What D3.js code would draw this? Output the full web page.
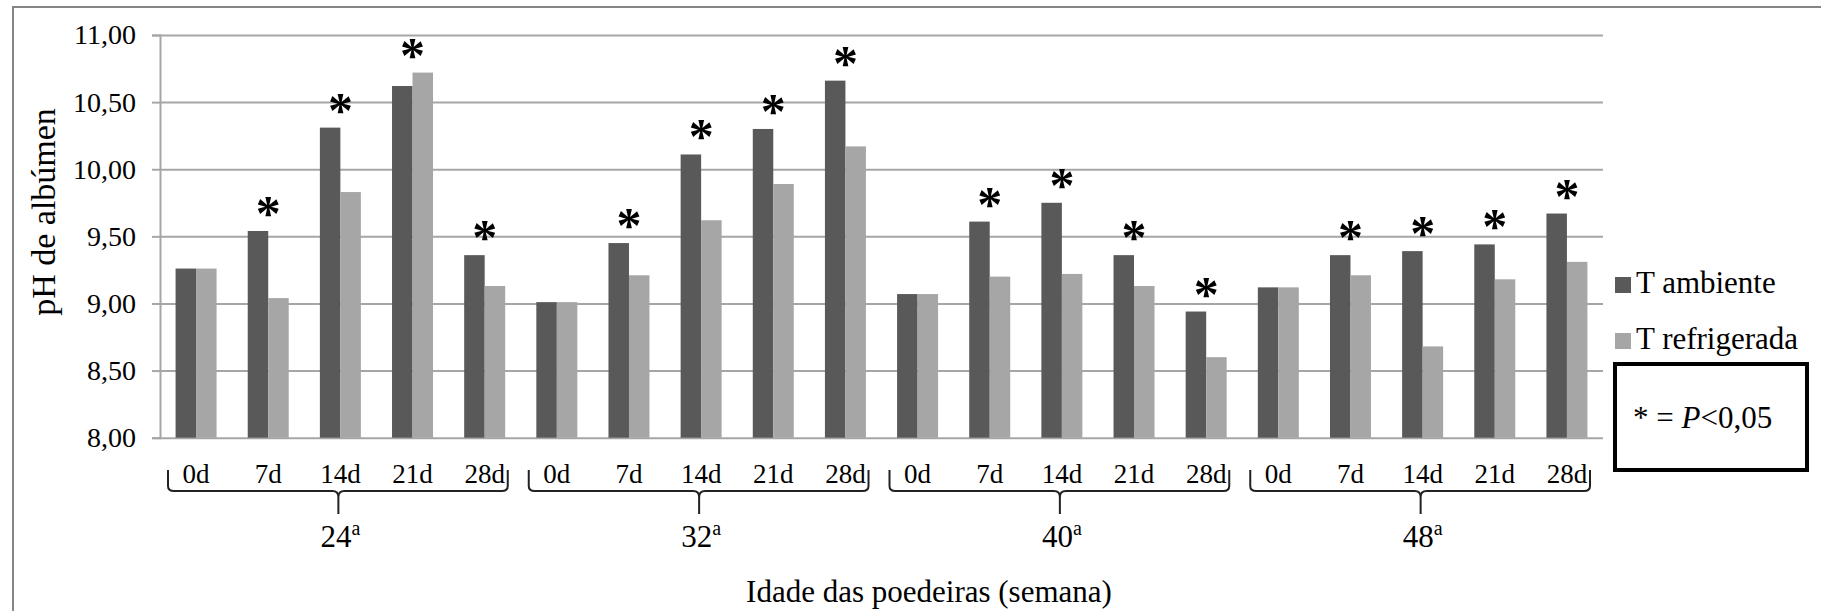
<!DOCTYPE html>
<html>
<head>
<meta charset="utf-8">
<script src="https://cdn.jsdelivr.net/npm/d3@7"></script>
<style>
  body { margin: 0; background: #fff; }
  text { font-family: "Liberation Serif", "Times New Roman", serif; fill: #000; }
</style>
</head>
<body>
<div id="chart"></div>
<script>
// ages (semana) and storage days
const groups = ["24", "32", "40", "48"];
const days = ["0d", "7d", "14d", "21d", "28d"];
const seriesNames = ["T ambiente", "T refrigerada"];

// pH values, one row per age group
const ambiente = [
  [9.26, 9.54, 10.31, 10.62, 9.36],
  [9.01, 9.45, 10.11, 10.30, 10.66],
  [9.07, 9.61, 9.75, 9.36, 8.94],
  [9.12, 9.36, 9.39, 9.44, 9.67]
];
const refrigerada = [
  [9.26, 9.04, 9.83, 10.72, 9.13],
  [9.01, 9.21, 9.62, 9.89, 10.17],
  [9.07, 9.20, 9.22, 9.13, 8.60],
  [9.12, 9.21, 8.68, 9.18, 9.31]
];
// * = P<0,05
const signif = [
  [false, true, true, true, true],
  [false, true, true, true, true],
  [false, true, true, true, true],
  [false, true, true, true, true]
];
const yTicks = [8, 8.5, 9, 9.5, 10, 10.5, 11];

const width = 1821, height = 611;
const marginLeft = 160, plotRight = 1603, plotTop = 35, plotBottom = 437.7;
const colors = ["#595959", "#a6a6a6"];

// flatten into rows for the band scale
const rows = [];
groups.forEach((g, gi) => days.forEach((d, di) => rows.push({
  key: g + "-" + d, group: g, gi, day: d,
  values: [ambiente[gi][di], refrigerada[gi][di]],
  sig: signif[gi][di]
})));

const fmt = v => d3.format(".2f")(v).replace(".", ",");

const x0 = d3.scaleBand().domain(rows.map(r => r.key)).range([marginLeft, plotRight]).padding(0);
const x1 = d3.scaleBand().domain([0, 1]).range([0, x0.bandwidth()]).paddingInner(0).paddingOuter(0.76);
const y = d3.scaleLinear().domain([8, 11]).range([plotBottom, plotTop]);

const svg = d3.select("#chart").append("svg")
    .attr("width", width)
    .attr("height", height)
    .attr("viewBox", [0, 0, width, height]);

svg.append("rect").attr("width", width).attr("height", height).attr("fill", "#fff");

// outer frame (cut off at right and bottom)
svg.append("rect")
    .attr("x", 13).attr("y", 7)
    .attr("width", width).attr("height", height)
    .attr("fill", "none")
    .attr("stroke", "#858585")
    .attr("stroke-width", 2);

// y axis with gridlines
const yAxis = d3.axisLeft(y).tickValues(yTicks).tickFormat(fmt).tickSize(8).tickPadding(16);
svg.append("g")
    .attr("transform", `translate(${marginLeft},0)`)
    .call(yAxis)
    .call(g => g.select(".domain").attr("stroke", "#a6a6a6").attr("stroke-width", 2))
    .call(g => g.selectAll(".tick line").attr("stroke", "#a6a6a6").attr("stroke-width", 2))
    .call(g => g.selectAll(".tick line").clone()
        .attr("x1", 0)
        .attr("x2", plotRight - marginLeft))
    .call(g => g.selectAll(".tick text")
        .attr("font-size", 28)
        .attr("font-family", "Liberation Serif"));

// bars
const bar = svg.append("g")
  .selectAll("g")
  .data(rows)
  .join("g")
    .attr("transform", d => `translate(${x0(d.key)},0)`);

bar.selectAll("rect")
  .data(d => d.values.map((v, i) => ({ v, i })))
  .join("rect")
    .attr("x", d => x1(d.i))
    .attr("y", d => y(d.v))
    .attr("width", x1.bandwidth())
    .attr("height", d => y(8) - y(d.v))
    .attr("fill", d => colors[d.i]);

// significance stars
svg.append("g")
  .selectAll("text")
  .data(rows.filter(r => r.sig))
  .join("text")
    .attr("x", d => x0(d.key) + x0.bandwidth() / 2)
    .attr("y", d => y(d3.max(d.values)) - 1)
    .attr("text-anchor", "middle")
    .attr("font-size", 50)
    .attr("font-weight", "bold")
    .text("*");

// day labels
svg.append("g")
  .selectAll("text")
  .data(rows)
  .join("text")
    .attr("x", d => x0(d.key) + x0.bandwidth() / 2)
    .attr("y", 483)
    .attr("text-anchor", "middle")
    .attr("font-size", 27)
    .text(d => d.day);

// braces under each age group
const step = x0.step();
groups.forEach((g, gi) => {
  const left = marginLeft + gi * days.length * step + 8;
  const right = marginLeft + (gi + 1) * days.length * step - 13;
  const mid = marginLeft + (gi + 0.5) * days.length * step - 2;
  const top = 470, base = 491, tip = 514;
  const p = d3.path();
  p.moveTo(left, top);
  p.lineTo(left, base - 5);
  p.quadraticCurveTo(left, base, left + 6, base);
  p.lineTo(mid - 6, base);
  p.quadraticCurveTo(mid, base, mid, base + 6);
  p.lineTo(mid, tip);
  p.moveTo(mid, base + 6);
  p.quadraticCurveTo(mid, base, mid + 6, base);
  p.lineTo(right - 6, base);
  p.quadraticCurveTo(right, base, right, base - 5);
  p.lineTo(right, top);
  svg.append("path")
      .attr("d", p.toString())
      .attr("fill", "none")
      .attr("stroke", "#222")
      .attr("stroke-width", 2);

  const lbl = svg.append("text")
      .attr("x", mid + 2)
      .attr("y", 547)
      .attr("text-anchor", "middle")
      .attr("font-size", 31);
  lbl.append("tspan").text(g);
  lbl.append("tspan").attr("font-size", 20).attr("dy", -12).text("a");
});

// axis titles
svg.append("text")
    .attr("x", 929)
    .attr("y", 602)
    .attr("text-anchor", "middle")
    .attr("font-size", 31)
    .text("Idade das poedeiras (semana)");

svg.append("text")
    .attr("transform", "translate(55,212) rotate(-90)")
    .attr("text-anchor", "middle")
    .attr("font-size", 34)
    .text("pH de albúmen");

// legend
const legend = svg.append("g")
  .selectAll("g")
  .data(seriesNames)
  .join("g")
    .attr("transform", (d, i) => `translate(1615,${277 + i * 56})`);
legend.append("rect")
    .attr("width", 16).attr("height", 16)
    .attr("fill", (d, i) => colors[i]);
legend.append("text")
    .attr("x", 21)
    .attr("y", 16)
    .attr("font-size", 31)
    .text(d => d);

// P-value box
svg.append("rect")
    .attr("x", 1615).attr("y", 364)
    .attr("width", 192).attr("height", 106)
    .attr("fill", "none")
    .attr("stroke", "#000")
    .attr("stroke-width", 4);
const note = svg.append("text")
    .attr("x", 1633)
    .attr("y", 428)
    .attr("font-size", 31);
note.append("tspan").text("* = ");
note.append("tspan").attr("font-style", "italic").text("P");
note.append("tspan").text("<0,05");
</script>
</body>
</html>
